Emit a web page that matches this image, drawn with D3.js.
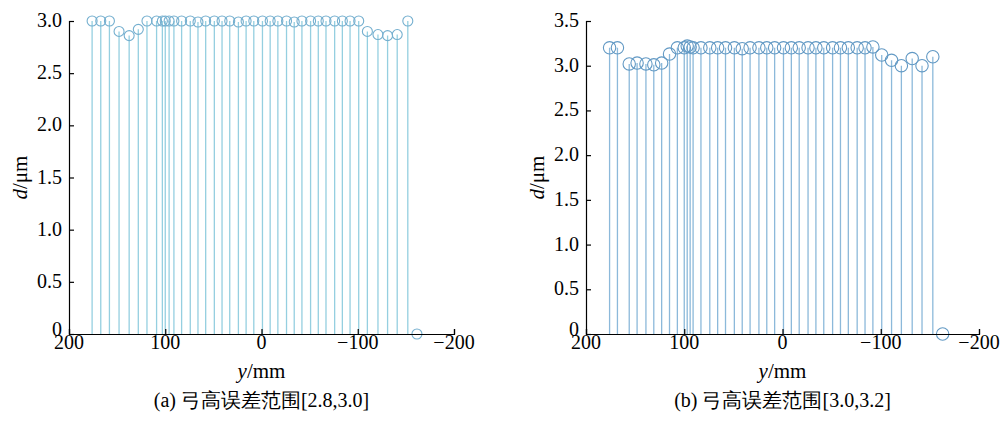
<!DOCTYPE html>
<html>
<head>
<meta charset="utf-8">
<script src="https://cdn.jsdelivr.net/npm/d3@7"></script>
<style>
  html, body { margin: 0; padding: 0; background: #fff; }
  svg { display: block; }
</style>
</head>
<body>
<div id="chart"></div>
<script>
// ---------- DATA ----------
// (a) chord height error range [2.8, 3.0]
const leftPos = [176, 167, 158, 148, 137.5, 128, 119, 109, 103, 100, 96, 91,
  83, 74, 66, 58, 49, 41, 33, 24, 16, 8, -1, -9, -17, -26, -34, -42, -51,
  -59, -67, -76, -84, -92, -101, -110, -121, -131, -141, -152, -161.5];
const leftD = [3.0, 3.0, 3.0, 2.9, 2.86, 2.92, 3.0, 3.0, 3.0, 3.0, 3.0, 3.0,
  3.0, 3.0, 2.99, 3.0, 3.0, 3.0, 3.0, 2.99, 3.0, 3.0, 3.0, 3.0, 3.0, 3.0, 2.99, 3.0, 3.0,
  3.0, 3.0, 3.0, 3.0, 3.0, 3.0, 2.9, 2.87, 2.86, 2.87, 3.0, 0];

// (b) chord height error range [3.0, 3.2]
const rightPos = [176, 168, 156, 148, 139, 131, 123, 115, 107, 100, 97, 94, 91,
  83, 74, 66, 58, 49, 41, 33, 24, 16, 8, -1, -9, -17, -26, -34, -42, -51,
  -59, -67, -76, -84, -92, -101, -111, -121, -132, -142, -153, -163];
const rightD = [3.2, 3.2, 3.02, 3.03, 3.02, 3.01, 3.03, 3.13, 3.2, 3.2, 3.22, 3.21, 3.2,
  3.2, 3.2, 3.2, 3.2, 3.2, 3.19, 3.2, 3.2, 3.2, 3.2, 3.2, 3.2, 3.2, 3.2, 3.2, 3.2, 3.2,
  3.2, 3.2, 3.2, 3.2, 3.21, 3.12, 3.06, 3.0, 3.08, 3.0, 3.1, 0];

const xTicks = [200, 100, 0, -100, -200];
const leftYTicks = [0, 0.5, 1.0, 1.5, 2.0, 2.5, 3.0];
const rightYTicks = [0, 0.5, 1.0, 1.5, 2.0, 2.5, 3.0, 3.5];

const PANELS = [
  { pos: leftPos, d: leftD, yMax: 3.0, yTicks: leftYTicks, x0: 69, x1: 454,
    stem: "#95cfe0", marker: "#74afcf", r: 5, caption: "(a) 弓高误差范围[2.8,3.0]" },
  { pos: rightPos, d: rightD, yMax: 3.5, yTicks: rightYTicks, x0: 586, x1: 979,
    stem: "#8cb9da", marker: "#6299c4", r: 6.2, caption: "(b) 弓高误差范围[3.0,3.2]" },
];

const W = 1002, H = 421;
const TOP = 21, BOTTOM = 334;
const SERIF = '"Liberation Serif", "Times New Roman", serif';

const svg = d3.select("#chart").append("svg")
  .attr("width", W).attr("height", H);

function fmtX(v) {
  return v < 0 ? "\u2212" + Math.abs(v) : String(v);
}
function fmtY(v) {
  return v === 0 ? "0" : d3.format(".1f")(v);
}

function drawPanel(cfg) {
  const x = d3.scaleLinear().domain([200, -200]).range([cfg.x0, cfg.x1]);
  const y = d3.scaleLinear().domain([0, cfg.yMax]).range([BOTTOM, TOP]);
  const g = svg.append("g");

  const pts = cfg.pos.map((p, i) => ({ p: p, d: cfg.d[i] }));

  // stems
  g.selectAll(".stem")
    .data(pts)
    .join("line")
    .attr("class", "stem")
    .attr("x1", (d) => x(d.p)).attr("x2", (d) => x(d.p))
    .attr("y1", y(0)).attr("y2", (d) => y(d.d))
    .attr("stroke", cfg.stem)
    .attr("stroke-width", 1.3);

  // markers
  g.selectAll(".mk")
    .data(pts)
    .join("circle")
    .attr("class", "mk")
    .attr("cx", (d) => x(d.p))
    .attr("cy", (d) => y(d.d))
    .attr("r", cfg.r)
    .attr("fill", "none")
    .attr("stroke", cfg.marker)
    .attr("stroke-width", 1.1);

  // axes (ticks inward)
  const ax = g.append("g")
    .attr("transform", `translate(0,${BOTTOM})`)
    .call(d3.axisTop(x).tickValues(xTicks).tickSize(5).tickFormat(""));
  const ay = g.append("g")
    .attr("transform", `translate(${cfg.x0},0)`)
    .call(d3.axisRight(y).tickValues(cfg.yTicks).tickSize(5).tickFormat(""));
  [ax, ay].forEach((a) => {
    a.select(".domain").attr("stroke", "#000").attr("stroke-width", 1.2);
    a.selectAll(".tick line").attr("stroke", "#000").attr("stroke-width", 1.2);
  });

  // tick labels
  g.selectAll(".xl")
    .data(xTicks)
    .join("text")
    .attr("font-family", SERIF)
    .attr("font-size", 20)
    .attr("x", (d) => x(d))
    .attr("y", BOTTOM + 15)
    .attr("text-anchor", "middle")
    .text(fmtX);

  g.selectAll(".yl")
    .data(cfg.yTicks)
    .join("text")
    .attr("font-family", SERIF)
    .attr("font-size", 20)
    .attr("x", cfg.x0 - 7)
    .attr("y", (d) => y(d) + (d === 0 ? 2 : 6))
    .attr("text-anchor", "end")
    .text(fmtY);

  // axis titles
  const xt = g.append("text")
    .attr("font-family", SERIF)
    .attr("font-size", 21)
    .attr("x", x(0))
    .attr("y", BOTTOM + 44)
    .attr("text-anchor", "middle");
  xt.append("tspan").attr("font-style", "italic").text("y");
  xt.append("tspan").text("/mm");

  const yt = g.append("text")
    .attr("font-family", SERIF)
    .attr("font-size", 21)
    .attr("transform", `translate(${cfg.x0 - 42},${(TOP + BOTTOM) / 2}) rotate(-90)`)
    .attr("text-anchor", "middle");
  yt.append("tspan").attr("font-style", "italic").text("d");
  yt.append("tspan").text("/\u03bcm");

  // caption
  g.append("text")
    .attr("font-family", SERIF)
    .attr("font-size", 20)
    .attr("x", x(0))
    .attr("y", BOTTOM + 73)
    .attr("text-anchor", "middle")
    .text(cfg.caption);
}

PANELS.forEach(drawPanel);
</script>
</body>
</html>
